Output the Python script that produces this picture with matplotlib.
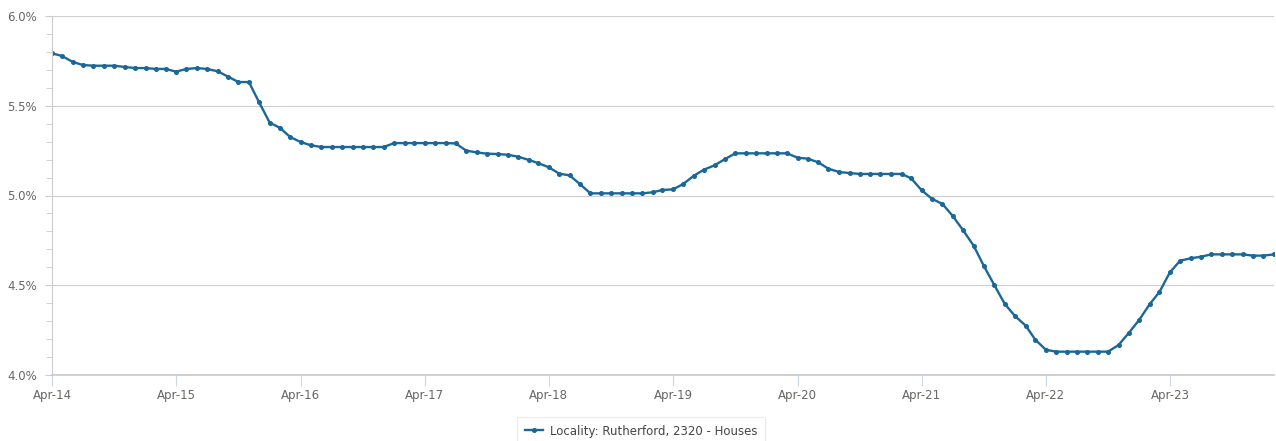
import matplotlib
matplotlib.use("Agg")
import matplotlib.pyplot as plt
import matplotlib.dates as mdates
from matplotlib.ticker import MultipleLocator, FuncFormatter
import pandas as pd

start_month = "2014-04-01"
series_label = "Locality: Rutherford, 2320 - Houses"
values = [
    5.792, 5.777, 5.744, 5.727, 5.723, 5.723, 5.723, 5.716, 5.710, 5.710,
    5.705, 5.705, 5.690, 5.705, 5.710, 5.705, 5.692, 5.662, 5.632, 5.632,
    5.519, 5.406, 5.376, 5.326, 5.298, 5.280, 5.270, 5.270, 5.270, 5.270,
    5.270, 5.270, 5.270, 5.292, 5.292, 5.292, 5.292, 5.292, 5.292, 5.290,
    5.250, 5.240, 5.233, 5.231, 5.227, 5.216, 5.198, 5.180, 5.157, 5.122,
    5.112, 5.064, 5.012, 5.012, 5.012, 5.012, 5.012, 5.012, 5.018, 5.031,
    5.034, 5.064, 5.110, 5.144, 5.168, 5.203, 5.235, 5.235, 5.235, 5.235,
    5.235, 5.235, 5.211, 5.205, 5.185, 5.149, 5.131, 5.125, 5.120, 5.120,
    5.120, 5.120, 5.120, 5.096, 5.029, 4.982, 4.953, 4.887, 4.806, 4.720,
    4.607, 4.500, 4.397, 4.327, 4.275, 4.197, 4.141, 4.130, 4.130, 4.130,
    4.130, 4.130, 4.130, 4.167, 4.234, 4.308, 4.396, 4.462, 4.572, 4.637,
    4.650, 4.659, 4.672, 4.672, 4.672, 4.672, 4.665, 4.665, 4.672,
]
dates = pd.date_range(start_month, periods=len(values), freq="MS")
tick_dates = pd.date_range("2014-04-01", periods=10, freq="12MS")

W, H = 1276, 441
fig = plt.figure(figsize=(W / 100, H / 100), dpi=100)
ax = fig.add_axes([52 / W, 1 - 375 / H, (1274 - 52) / W, (375 - 16) / H])

line_color = "#1a6899"
ax.plot(dates, values, color=line_color, lw=1.7, marker="o", ms=2.6,
        mfc=line_color, mec=line_color, label=series_label, solid_joinstyle="round")

ax.set_xlim(dates[0], dates[-1])
ax.set_ylim(4.0, 6.0)
ax.yaxis.set_major_locator(MultipleLocator(0.5))
ax.yaxis.set_minor_locator(MultipleLocator(0.1))
ax.yaxis.set_major_formatter(FuncFormatter(lambda v, p: f"{v:.1f}%"))
ax.set_xticks(tick_dates)
ax.xaxis.set_major_formatter(mdates.DateFormatter("%b-%y"))

ax.grid(axis="y", which="major", color="#d0d0d0", lw=0.9)
ax.set_axisbelow(True)
for s in ["top", "right"]:
    ax.spines[s].set_visible(False)
ax.spines["left"].set_color("#cccccc")
ax.spines["bottom"].set_color("#c8c8c8")
ax.spines["bottom"].set_linewidth(1.2)

ax.tick_params(axis="y", which="major", length=5, color="#cccccc", labelsize=8.5,
               labelcolor="#666666", pad=6)
ax.tick_params(axis="y", which="minor", length=4, color="#cccccc")
ax.tick_params(axis="x", which="major", length=8, color="#ccd6eb", labelsize=8.5,
               labelcolor="#666666", pad=2)

leg = fig.legend(loc="upper center", bbox_to_anchor=(641 / W, 1 - 411 / H),
                 frameon=True, fancybox=False, fontsize=8.5, handlelength=1.5,
                 handletextpad=0.6, borderpad=0.65, labelcolor="#444444")
leg.get_frame().set_edgecolor("#e6e6e6")
leg.get_frame().set_linewidth(0.8)

fig.savefig("out.png", dpi=100)
